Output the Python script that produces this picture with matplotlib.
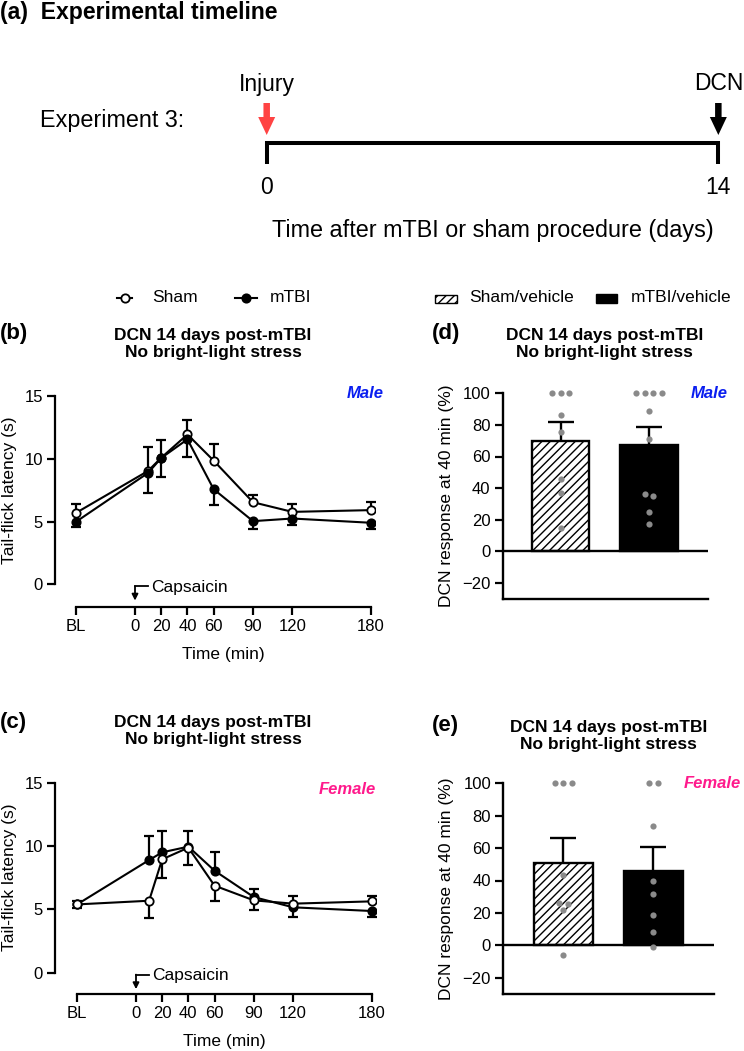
import numpy as np
import matplotlib
matplotlib.use('Agg')
import matplotlib.pyplot as plt
from matplotlib.patches import Rectangle

plt.rcParams['font.family'] = ['Liberation Sans', 'DejaVu Sans']
plt.rcParams['hatch.linewidth'] = 1.0

# ---------------- data ----------------
time_labels = ['BL', '0', '20', '40', '60', '90', '120', '180']
tick_times = [-45, 0, 20, 40, 60, 90, 120, 180]
obs_times = [-45, 10, 20, 40, 60, 90, 120, 180]

male_sham_mean = [5.70, 9.05, 10.10, 11.96, 9.87, 6.55, 5.78, 5.92]
male_sham_sem = [0.69, 1.90, 1.38, 1.17, 1.33, 0.60, 0.60, 0.64]
male_mtbi_mean = [4.99, 8.89, 10.08, 11.57, 7.59, 5.04, 5.25, 4.91]
male_mtbi_sem = [0.40, 1.64, 1.50, 1.40, 1.30, 0.60, 0.50, 0.53]

female_sham_mean = [5.39, 5.68, 8.95, 9.87, 6.87, 5.71, 5.45, 5.63]
female_sham_sem = [0.25, 1.34, 1.45, 1.37, 1.21, 0.79, 0.60, 0.45]
female_mtbi_mean = [5.39, 8.89, 9.50, 9.95, 8.05, 5.97, 5.16, 4.87]
female_mtbi_sem = [0.25, 1.89, 1.68, 1.24, 1.50, 0.60, 0.79, 0.45]

bar_groups = ['Sham/vehicle', 'mTBI/vehicle']
male_sham_pts = [100, 100, 100, 86.1, 75.7, 45.8, 36.7, 15.0]
male_mtbi_pts = [100, 100, 100, 100, 88.6, 71.1, 36.5, 35.2, 24.7, 17.5]
male_bar_mean = [69.6, 67.3]
male_bar_sem = [12.0, 11.4]

female_sham_pts = [100, 100, 100, 43.4, 25.9, 25.5, 22.0, -6.0]
female_mtbi_pts = [100, 100, 73.7, 39.7, 31.7, 18.9, 8.0, -1.2]
female_bar_mean = [50.6, 46.1]
female_bar_sem = [15.8, 14.6]

timeline_events = ['Injury', 'DCN']
timeline_days = [0, 14]
timeline_colors = ['#FF4343', 'black']

MALE_C = '#0A1EF0'
FEMALE_C = '#FF1A8C'
DOT_C = '#8A8A8A'

W, H = 744, 1051
fig = plt.figure(figsize=(W / 100, H / 100), dpi=100)
PX = 100 / 72.0  # pixels per point


def px_axes(x0, y0, x1, y1):
    return fig.add_axes([x0 / W, 1 - y1 / H, (x1 - x0) / W, (y1 - y0) / H])


def ftext(x, y, s, **kw):
    return fig.text(x / W, 1 - y / H, s, **kw)


# ---------------- overlay (legends) ----------------
ov = fig.add_axes([0, 0, 1, 1])
ov.set_xlim(0, W)
ov.set_ylim(H, 0)
ov.axis('off')

ly = 297.7
ov.plot([117, 132], [ly, ly], color='k', lw=1.5)
ov.plot([124.5], [ly], marker='o', ms=6, mfc='white', mec='k', mew=1.3)
ov.text(152, ly, 'Sham', va='center', ha='left', fontsize=12.5)
ov.plot([235, 257], [ly, ly], color='k', lw=1.5)
ov.plot([246], [ly], marker='o', ms=6, mfc='black', mec='k', mew=1.3)
ov.text(270, ly, 'mTBI', va='center', ha='left', fontsize=12.5)
ov.add_patch(Rectangle((435, 294.5), 22, 8, facecolor='white', edgecolor='k',
                       lw=1.0, hatch='////'))
ov.text(469, ly, bar_groups[0], va='center', ha='left', fontsize=12.5)
ov.add_patch(Rectangle((596, 294), 21, 9, facecolor='black', edgecolor='k', lw=1.0))
ov.text(630.5, ly, bar_groups[1], va='center', ha='left', fontsize=12.5)

# ---------------- (a) timeline ----------------
t_x0, t_sx = 266.7, 32.26
axa = px_axes(0, 0, W, 250)
axa.set_xlim(-t_x0 / t_sx, (W - t_x0) / t_sx)
axa.set_ylim(250, 0)
axa.axis('off')
d0, d1 = timeline_days[0], timeline_days[-1]
axa.plot([d0, d0, d1, d1], [164, 142.5, 142.5, 164], color='k', lw=2.9,
         solid_joinstyle='miter', solid_capstyle='butt')
ms_ = 10.0
for ev, d, c in zip(timeline_events, timeline_days, timeline_colors):
    axa.annotate('', xy=(d, 135), xytext=(d, 103),
                 arrowprops=dict(arrowstyle='simple,head_length=%f,head_width=%f,tail_width=%f'
                                 % (18 / (ms_ * PX), 17 / (ms_ * PX), 6.5 / (ms_ * PX)),
                                 color=c, lw=0, shrinkA=0, shrinkB=0, mutation_scale=ms_))
    axa.text(d, 84, ev, ha='center', va='center', fontsize=16.5)
    axa.text(d, 188, str(d), ha='center', va='center', fontsize=16.5)
axa.text((d0 + d1) / 2, 230, 'Time after mTBI or sham procedure (days)', ha='center',
         va='center', fontsize=16.8)
axa.text(-t_x0 / t_sx + 40 / t_sx, 121, 'Experiment 3:', ha='left', va='center',
         fontsize=16.8)
ftext(0, 12, '(a)  Experimental timeline', ha='left', va='center', fontsize=16.6,
      fontweight='bold')


# ---------------- time-course panels ----------------
def line_panel(box, x0, sx, y0, sy, sham_m, sham_s, mtbi_m, mtbi_s, sex, sex_c, sex_xy,
               sham_on_top):
    bx0, by0, bx1, by1 = box
    ax = px_axes(bx0, by0, bx1, by1)
    ax.set_xlim((bx0 - x0) / sx, (bx1 - x0) / sx)
    ax.set_ylim((y0 - by1) / sy, (y0 - by0) / sy)
    sham_m = np.asarray(sham_m); sham_s = np.asarray(sham_s)
    mtbi_m = np.asarray(mtbi_m); mtbi_s = np.asarray(mtbi_s)
    sham_up = sham_m >= mtbi_m
    series = [(sham_m, sham_s, sham_up, 'white'), (mtbi_m, mtbi_s, ~sham_up, 'black')]
    zs = [6, 3] if sham_on_top else [3, 6]
    for (m, s, up, fc), z in zip(series, zs):
        end = np.where(up, m + s, m - s)
        ax.vlines(obs_times, m, end, colors='k', lw=1.6, zorder=z)
        ax.plot(obs_times, end, ls='none', marker='_', ms=7.2, mew=1.6, color='k', zorder=z)
        ax.plot(obs_times, m, color='k', lw=1.5, marker='o', ms=6.0, mfc=fc, mec='k',
                mew=1.3, zorder=z + 1)
    for s in ['top', 'right']:
        ax.spines[s].set_visible(False)
    for s in ['left', 'bottom']:
        ax.spines[s].set_linewidth(1.6)
    ax.spines['left'].set_bounds(0, 15)
    ax.spines['bottom'].set_bounds(tick_times[0], tick_times[-1])
    ax.set_yticks([0, 5, 10, 15])
    ax.set_xticks(tick_times, time_labels)
    ax.tick_params(length=5.8, width=1.6, labelsize=12, pad=3)
    # capsaicin marker
    ax.plot([10, 0], [-0.15, -0.15], color='k', lw=1.3)
    ax.annotate('', xy=(0, -1.3), xytext=(0, -0.15),
                arrowprops=dict(arrowstyle='-|>', color='k', lw=1.3, shrinkA=0, shrinkB=0,
                                mutation_scale=9))
    ax.text(12.5, -0.22, 'Capsaicin', va='center', ha='left', fontsize=12.5)
    ftext(sex_xy[0], sex_xy[1], sex, color=sex_c, fontsize=12, fontweight='bold',
          fontstyle='italic', ha='left', va='center')
    # labels
    ycen = y0 - 7.5 * sy
    ftext(10, ycen, 'Tail-flick latency (s)', rotation=90, ha='center', va='center',
          fontsize=12.5)
    xcen = x0 + sx * (tick_times[0] + tick_times[-1]) / 2
    ftext(xcen, by1 + 47.7, 'Time (min)', ha='center', va='center', fontsize=12.5)
    return ax


line_panel((55, 388, 375, 606.7), 135, 1.311, 584.3, 12.53,
           male_sham_mean, male_sham_sem, male_mtbi_mean, male_mtbi_sem,
           'Male', MALE_C, (346.7, 393.3), False)
line_panel((55, 776, 376, 994), 136, 1.309, 972.7, 12.67,
           female_sham_mean, female_sham_sem, female_mtbi_mean, female_mtbi_sem,
           'Female', FEMALE_C, (319, 789), True)


# ---------------- bar panels ----------------
def swarm_offsets(vals, sy, spacing, tol_px=4.0):
    vals = np.asarray(vals, float)
    order = np.argsort(-vals, kind='stable')
    offs = np.zeros(len(vals))
    groups = []
    for i in order:
        if groups and abs(vals[groups[-1][-1]] - vals[i]) * sy < tol_px:
            groups[-1].append(i)
        else:
            groups.append([i])
    for g in groups:
        n = len(g)
        for k, i in enumerate(g):
            offs[i] = (k - (n - 1) / 2) * spacing
    return offs


def bar_panel(box, xc0, sx, y0, sy, means, sems, pts_list, sex, sex_c, sex_xy):
    bx0, by0, bx1, by1 = box
    ax = px_axes(bx0, by0, bx1, by1)
    ax.set_xlim((bx0 - xc0) / sx, (bx1 - xc0) / sx)
    ax.set_ylim((y0 - by1) / sy, (y0 - by0) / sy)
    xs = np.arange(len(means))
    ax.bar(xs[0], means[0], width=0.655, color='white', edgecolor='k', lw=1.7,
           hatch='////', zorder=2)
    ax.bar(xs[1], means[1], width=0.655, color='black', edgecolor='k', lw=1.7, zorder=2)
    tops = np.asarray(means) + np.asarray(sems)
    ax.vlines(xs, means, tops, colors='k', lw=1.7, zorder=3)
    ax.plot(xs, tops, ls='none', marker='_', ms=19.2, mew=1.7, color='k', zorder=3)
    ax.axhline(0, color='k', lw=1.7, zorder=2.5)
    spacing = 8.7 / sx
    for x, pts in zip(xs, pts_list):
        offs = swarm_offsets(pts, sy, spacing)
        ax.scatter(x + offs, pts, s=20, color=DOT_C, linewidths=0, zorder=4, clip_on=False)
    for s in ['top', 'right']:
        ax.spines[s].set_visible(False)
    for s in ['left', 'bottom']:
        ax.spines[s].set_linewidth(1.7)
    ax.spines['left'].set_bounds((y0 - by1) / sy, 100)
    ax.set_xticks([])
    ax.set_yticks([-20, 0, 20, 40, 60, 80, 100])
    ax.tick_params(axis='y', length=5.8, width=1.6, labelsize=12, pad=3)
    ycen = (y0 - 100 * sy + by1) / 2
    ftext(446.7, ycen, 'DCN response at 40 min (%)', rotation=90, ha='center', va='center',
          fontsize=12.5)
    ftext(sex_xy[0], sex_xy[1], sex, color=sex_c, fontsize=12, fontweight='bold',
          fontstyle='italic', ha='left', va='center')
    return ax


bar_panel((502.7, 386, 708.3, 598.7), 560.5, 88.5, 551.3, 1.58,
          male_bar_mean, male_bar_sem, [male_sham_pts, male_mtbi_pts],
          'Male', MALE_C, (691, 393.3))
bar_panel((503.3, 777, 714.3, 994), 563.2, 90.1, 945.3, 1.62,
          female_bar_mean, female_bar_sem, [female_sham_pts, female_mtbi_pts],
          'Female', FEMALE_C, (684, 783.3))

# ---------------- titles & panel letters ----------------
title = 'DCN 14 days post-mTBI\nNo bright-light stress'
for (cx, cy) in [(213, 344.3), (604.5, 344.3), (213, 731), (608.7, 735.7)]:
    ftext(cx, cy, title, ha='center', va='center', fontsize=12.5, fontweight='bold',
          linespacing=1.15, multialignment='center')
for (lx, ly_, lab) in [(0, 333.3, '(b)'), (431.7, 333.3, '(d)'), (0, 722.7, '(c)'),
                       (431.7, 725, '(e)')]:
    ftext(lx, ly_, lab, ha='left', va='center', fontsize=16, fontweight='bold')

fig.savefig('out.png', dpi=100)
